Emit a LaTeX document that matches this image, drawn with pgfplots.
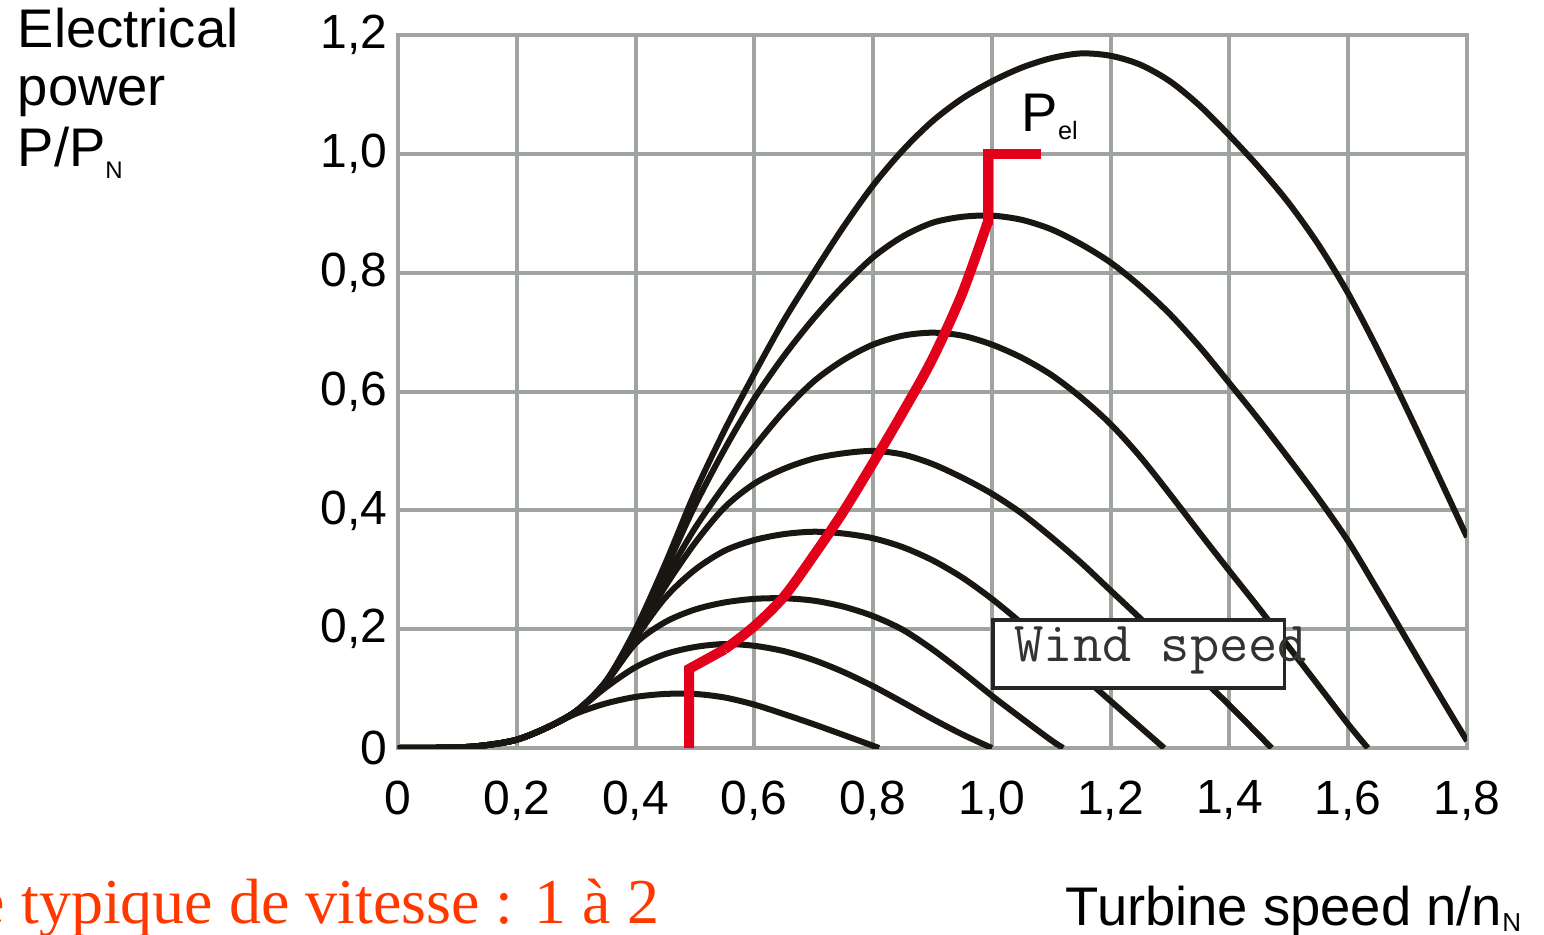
\documentclass[border=0pt]{standalone}
\usepackage{fontspec}
\setmainfont{Liberation Sans}
\newfontfamily\timesfont{Liberation Serif}
\usepackage{pgfplots}
\pgfplotsset{compat=1.18}
\definecolor{gridgray}{RGB}{160,164,160}
\definecolor{pelred}{RGB}{226,0,26}
\definecolor{noteorange}{RGB}{255,56,0}
\definecolor{curveblack}{RGB}{26,22,18}
\pgfplotsset{pcurve/.style={curveblack,line width=1.5pt,no markers}}

\begin{document}
\begin{tikzpicture}
\useasboundingbox (-99.5pt,-46.5pt) rectangle (286.5pt,187pt);
\begin{axis}[
  scale only axis, width=267.25pt, height=178.25pt,
  xmin=0, xmax=1.8, ymin=0, ymax=1.2,
  xtick={0,0.2,0.4,0.6,0.8,1,1.2,1.4,1.6,1.8},
  xticklabels={0,{0,2},{0,4},{0,6},{0,8},{1,0},{1,2},{1,4},{1,6},{1,8}},
  ytick={0,0.2,0.4,0.6,0.8,1,1.2},
  yticklabels={0,{0,2},{0,4},{0,6},{0,8},{1,0},{1,2}},
  grid=major, major grid style={gridgray,line width=1pt},
  axis line style={gridgray,line width=1pt},
  major tick length=0pt,
  tick label style={font=\fontsize{12}{14}\selectfont, inner sep=0pt},
  xticklabel style={anchor=north, yshift=-8pt},
  yticklabel style={anchor=east, xshift=-2.5pt},
]
% wind speed curves, lowest to highest
\addplot[pcurve,smooth] coordinates {(0,0)(0.1,0.001)(0.15,0.005)(0.2,0.014)(0.25,0.034)(0.3,0.058)(0.35,0.075)(0.4,0.086)(0.45,0.091)(0.5,0.091)(0.55,0.085)(0.6,0.073)(0.65,0.057)(0.7,0.04)(0.75,0.022)(0.81,0)};
\addplot[pcurve,smooth] coordinates {(0,0)(0.1,0.001)(0.15,0.005)(0.2,0.014)(0.25,0.034)(0.3,0.062)(0.35,0.102)(0.4,0.136)(0.45,0.158)(0.5,0.17)(0.55,0.175)(0.6,0.172)(0.65,0.163)(0.7,0.148)(0.75,0.128)(0.8,0.104)(0.85,0.077)(0.9,0.049)(0.95,0.023)(1.0,0)};
\addplot[pcurve,smooth] coordinates {(0,0)(0.1,0.001)(0.15,0.005)(0.2,0.014)(0.25,0.034)(0.3,0.062)(0.35,0.11)(0.4,0.176)(0.45,0.212)(0.5,0.233)(0.55,0.245)(0.6,0.251)(0.65,0.252)(0.7,0.248)(0.75,0.238)(0.8,0.222)(0.85,0.199)(0.9,0.166)(0.95,0.128)(1.0,0.088)(1.05,0.05)(1.1,0.013)(1.12,0)};
\addplot[pcurve,smooth] coordinates {(0,0)(0.1,0.001)(0.15,0.005)(0.2,0.014)(0.25,0.034)(0.3,0.062)(0.35,0.11)(0.4,0.185)(0.45,0.253)(0.5,0.3)(0.55,0.332)(0.6,0.35)(0.65,0.36)(0.7,0.364)(0.75,0.361)(0.8,0.353)(0.85,0.338)(0.9,0.316)(0.95,0.287)(1.0,0.251)(1.05,0.21)(1.1,0.167)(1.15,0.123)(1.2,0.079)(1.25,0.035)(1.29,0)};
\addplot[pcurve,smooth] coordinates {(0,0)(0.1,0.001)(0.15,0.005)(0.2,0.014)(0.25,0.034)(0.3,0.062)(0.35,0.112)(0.4,0.19)(0.45,0.272)(0.5,0.345)(0.55,0.405)(0.6,0.445)(0.65,0.47)(0.7,0.487)(0.75,0.496)(0.8,0.5)(0.85,0.494)(0.9,0.478)(0.95,0.455)(1.0,0.428)(1.05,0.395)(1.1,0.355)(1.15,0.312)(1.2,0.265)(1.25,0.218)(1.3,0.17)(1.35,0.12)(1.4,0.072)(1.471,0)};
\addplot[pcurve,smooth] coordinates {(0,0)(0.1,0.001)(0.15,0.005)(0.2,0.014)(0.25,0.034)(0.3,0.062)(0.35,0.112)(0.4,0.195)(0.45,0.285)(0.5,0.37)(0.55,0.442)(0.6,0.507)(0.65,0.567)(0.7,0.617)(0.75,0.653)(0.8,0.679)(0.85,0.694)(0.9,0.699)(0.95,0.694)(1.0,0.679)(1.05,0.657)(1.1,0.628)(1.15,0.59)(1.2,0.545)(1.25,0.49)(1.3,0.427)(1.35,0.362)(1.4,0.298)(1.45,0.235)(1.5,0.17)(1.55,0.105)(1.6,0.04)(1.633,0)};
\addplot[pcurve,smooth] coordinates {(0,0)(0.1,0.001)(0.15,0.005)(0.2,0.014)(0.25,0.034)(0.3,0.062)(0.35,0.112)(0.4,0.198)(0.45,0.3)(0.5,0.408)(0.55,0.503)(0.6,0.588)(0.65,0.66)(0.7,0.723)(0.75,0.778)(0.8,0.826)(0.85,0.861)(0.9,0.884)(0.95,0.894)(1.0,0.896)(1.05,0.889)(1.1,0.873)(1.15,0.848)(1.2,0.817)(1.25,0.777)(1.3,0.73)(1.35,0.675)(1.4,0.614)(1.45,0.552)(1.5,0.487)(1.55,0.42)(1.6,0.348)(1.65,0.265)(1.7,0.18)(1.75,0.095)(1.8,0.012)};
\addplot[pcurve,smooth] coordinates {(0,0)(0.1,0.001)(0.15,0.005)(0.2,0.014)(0.25,0.034)(0.3,0.062)(0.35,0.112)(0.4,0.2)(0.45,0.31)(0.5,0.43)(0.55,0.535)(0.6,0.63)(0.65,0.72)(0.7,0.8)(0.75,0.877)(0.8,0.947)(0.85,1.006)(0.9,1.055)(0.95,1.093)(1.0,1.122)(1.05,1.145)(1.1,1.161)(1.15,1.169)(1.2,1.165)(1.25,1.15)(1.3,1.122)(1.35,1.081)(1.4,1.031)(1.45,0.977)(1.5,0.917)(1.55,0.847)(1.6,0.765)(1.65,0.67)(1.7,0.568)(1.75,0.462)(1.8,0.355)};
% operating curve P_el
\addplot[pelred,line width=2.5pt,line join=miter,no markers] coordinates {(0.49,0)(0.49,0.133)(0.55,0.166)};
\addplot[pelred,line width=2.5pt,smooth,no markers] coordinates {(0.55,0.166)(0.6,0.205)(0.65,0.255)(0.7,0.324)(0.75,0.398)(0.8,0.48)(0.85,0.565)(0.9,0.655)(0.95,0.765)(0.993,0.885)};
\addplot[pelred,line width=2.5pt,line join=miter,no markers] coordinates {(0.993,0.88)(0.993,1.0)(1.083,1.0)};
\node[anchor=base west,inner sep=0pt,font=\fontsize{13.6}{16}\selectfont] at (axis cs:1.049,1.037) {P\raisebox{-2pt}{\fontsize{6.3}{7}\selectfont el}};
\draw[fill=white,draw=black!85,line width=0.85pt] (axis cs:1.002,0.101) rectangle (axis cs:1.493,0.2155);
\node[anchor=base west,inner sep=0pt,text=black!80,font=\ttfamily\fontsize{14.2}{16}\selectfont] at (axis cs:1.037,0.145) {Wind speed};
\end{axis}
\node[anchor=base west,inner sep=0pt,font=\fontsize{13.6}{16}\selectfont] at (-95.25pt,175pt) {Electrical};
\node[anchor=base west,inner sep=0pt,font=\fontsize{13.6}{16}\selectfont] at (-95.25pt,160.5pt) {power};
\node[anchor=base west,inner sep=0pt,font=\fontsize{13.6}{16}\selectfont] at (-95.25pt,145.25pt) {P/P\raisebox{-3pt}{\fontsize{6}{7}\selectfont N}};
\node[anchor=base west,inner sep=0pt,font=\fontsize{13.6}{16}\selectfont] at (166.75pt,-44.25pt) {Turbine speed n/n\raisebox{-1.5pt}{\fontsize{6.5}{7}\selectfont N}};
\node[anchor=base west,inner sep=0pt,text=noteorange,font=\timesfont\fontsize{16}{18}\selectfont] at (-105.5pt,-43.75pt) {e typique de vitesse : 1 à 2};
\end{tikzpicture}
\end{document}
